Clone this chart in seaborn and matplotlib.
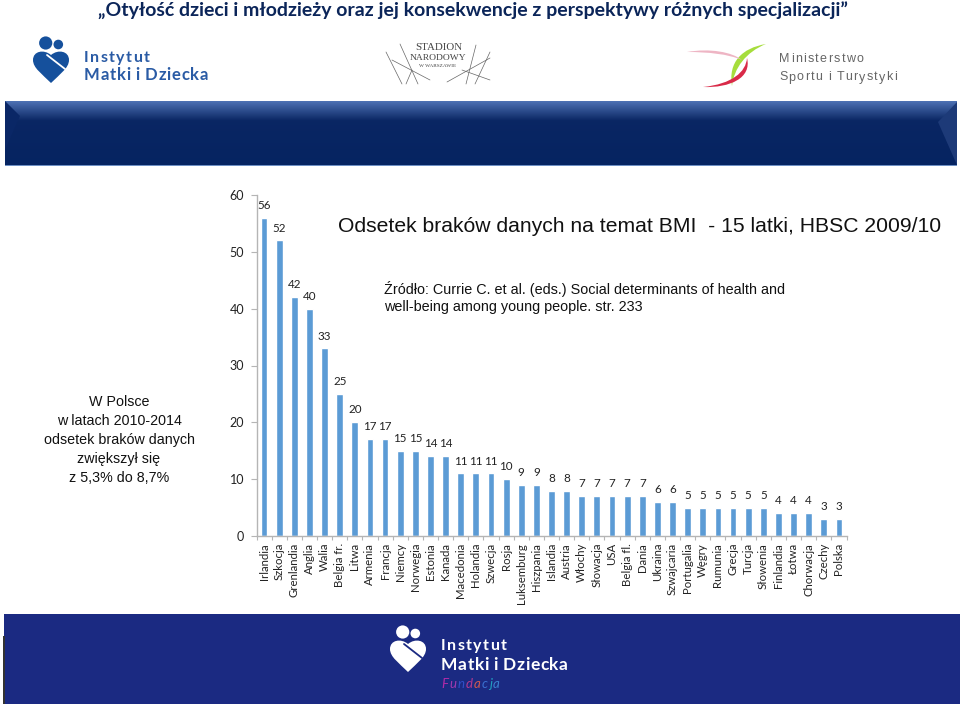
import numpy as np
import pandas as pd
import matplotlib.pyplot as plt
from matplotlib.patches import Circle, PathPatch, Polygon, Rectangle
from matplotlib.path import Path
import seaborn as sns

# dane
kraje = ["Irlandia", "Szkocja", "Grenlandia", "Anglia", "Walia", "Belgia fr.", "Litwa",
         "Armenia", "Francja", "Niemcy", "Norwegia", "Estonia", "Kanada", "Macedonia",
         "Holandia", "Szwecja", "Rosja", "Luksemburg", "Hiszpania", "Islandia", "Austria",
         "Włochy", "Słowacja", "USA", "Belgia fl.", "Dania", "Ukraina", "Szwajcaria",
         "Portugalia", "Węgry", "Rumunia", "Grecja", "Turcja", "Słowenia", "Finlandia",
         "Łotwa", "Chorwacja", "Czechy", "Polska"]
braki = [56, 52, 42, 40, 33, 25, 20, 17, 17, 15, 15, 14, 14, 11, 11, 11, 10, 9, 9, 8, 8,
         7, 7, 7, 7, 7, 6, 6, 5, 5, 5, 5, 5, 5, 4, 4, 4, 3, 3]
y_ticks = [0, 10, 20, 30, 40, 50, 60]

tytul = "„Otyłość dzieci i młodzieży oraz jej konsekwencje z perspektywy różnych specjalizacji”"
naglowek = "Odsetek braków danych na temat BMI  - 15 latki, HBSC 2009/10"
zrodlo = ["Źródło: Currie C. et al. (eds.) Social determinants of health and",
          "well-being among young people. str. 233"]
polska = ["W Polsce", "w latach 2010-2014", "odsetek braków danych", "zwiększył się", "z 5,3% do 8,7%"]

W, H = 960, 706
sns.set_theme(style="white")
plt.rcParams["font.family"] = ["Lato", "DejaVu Sans"]

df = pd.DataFrame({"kraj": kraje, "braki": braki})

fig = plt.figure(figsize=(W / 100, H / 100), dpi=100, facecolor="white")

# tlo w pikselach
bg = fig.add_axes([0, 0, 1, 1], zorder=0)


def logo(ax, dx, dy, kolor, tlo):
    ax.add_patch(Circle((45.7 + dx, 43 + dy), 6.6, fc=kolor, ec="none"))
    ax.add_patch(Circle((58.3 + dx, 44.5 + dy), 4.8, fc=kolor, ec="none"))
    verts = [(51, 83), (42, 74), (33, 68), (33, 60), (33, 51), (44, 49), (51, 55),
             (58, 49), (69, 51), (69, 60), (69, 68), (60, 74), (51, 83)]
    verts = [(a + dx, b + dy) for a, b in verts]
    codes = [Path.MOVETO] + [Path.CURVE4] * 12
    ax.add_patch(PathPatch(Path(verts, codes), fc=kolor, ec="none"))
    ax.plot([47 + dx, 65 + dx], [55 + dy, 69 + dy], color=tlo, lw=1.3)


def spaced(ax, x, y, napis, odstep, **kw):
    # tekst z rozstrzelonymi literami
    rend = fig.canvas.get_renderer()
    for lit in napis:
        tx = ax.text(x, y, lit, va="center", ha="left", **kw)
        if lit == " ":
            x += 3.5 + odstep
        else:
            x += tx.get_window_extent(rend).width + odstep


# pasek gorny z gradientem
top = np.array([0.30, 0.44, 0.70])
mid = np.array([0.04, 0.15, 0.39])
low = np.array([0.02, 0.14, 0.38])
t = np.linspace(0, 1, 65)
grad = np.array([top + (mid - top) * v / 0.3 if v < 0.3 else mid + (low - mid) * (v - 0.3) / 0.7 for v in t])
bg.imshow(grad[:, None, :], extent=[5, 957, 166, 101], aspect="auto", zorder=1)
bg.add_patch(Polygon([(5, 101), (20, 116), (5, 150)], fc="#0a2766", ec="none", zorder=2))
bg.add_patch(Polygon([(957, 102), (938, 122), (957, 165)], fc="#1d3a78", ec="none", zorder=2))
bg.add_patch(Rectangle((5, 165), 952, 1.2, fc="#6d8fc4", ec="none", zorder=3))

# pasek dolny
bg.add_patch(Rectangle((4, 614), 956, 90, fc="#1b2a82", ec="none", zorder=1))
bg.add_patch(Rectangle((3, 636), 1.5, 68, fc="#333333", ec="none", zorder=2))

logo(bg, 0, 0, "#15509c", "white")
logo(bg, 357, 589, "white", "#1b2a82")
spaced(bg, 84, 58, "Instytut", 1.4, fontsize=11.5, fontweight="bold", color="#2a5ba5")
spaced(bg, 84, 75, "Matki i Dziecka", 0.8, fontsize=12, fontweight="bold", color="#2a5ba5")
spaced(bg, 441, 646, "Instytut", 1.4, fontsize=11.5, fontweight="bold", color="white")
spaced(bg, 441, 665, "Matki i Dziecka", 0.6, fontsize=12.5, fontweight="bold", color="white")
x_f = 441
for lit, kol in zip("Fundacja", ["#b02aa8", "#a03ab0", "#3050c8", "#b03a90", "#d05a50", "#3a70d0", "#20a0c0", "#3a80d0"]):
    tx = bg.text(x_f, 684, lit, fontsize=9.5, color=kol, va="center", ha="left", style="italic")
    x_f += tx.get_window_extent(fig.canvas.get_renderer()).width + 1.2

# stadion
bg.text(439, 48, "STADION", fontsize=7.8, family="Liberation Serif", color="#444444", ha="center", va="center")
bg.text(438, 58, "NARODOWY", fontsize=6.8, family="Liberation Serif", color="#444444", ha="center", va="center")
bg.text(438, 66, "W WARSZAWIE", fontsize=3.8, family="Liberation Serif", color="#444444", ha="center", va="center")
for a, b in [((386, 52), (402, 84)), ((400, 44), (418, 84)), ((392, 60), (430, 80)), ((406, 84), (412, 70)),
             ((476, 45), (466, 84)), ((490, 52), (475, 84)), ((447, 82), (490, 58)), ((490, 80), (462, 70))]:
    bg.plot([a[0], b[0]], [a[1], b[1]], color="#666666", lw=0.5)

# ministerstwo
bg.add_patch(PathPatch(Path([(766, 44), (742, 48), (728, 62), (732, 86), (734, 68), (746, 52), (766, 44)],
                            [Path.MOVETO] + [Path.CURVE4] * 6), fc="#a6dd3c", ec="none"))
bg.add_patch(PathPatch(Path([(703, 87), (730, 88), (752, 78), (747, 58), (746, 72), (732, 84), (703, 87)],
                            [Path.MOVETO] + [Path.CURVE4] * 6), fc="#d92a48", ec="none"))
bg.add_patch(PathPatch(Path([(687, 52), (710, 48), (732, 52), (742, 60), (728, 54), (708, 52), (687, 52)],
                            [Path.MOVETO] + [Path.CURVE4] * 6), fc="#eeb5c4", ec="none"))
spaced(bg, 779, 59.5, "Ministerstwo", 1.3, fontsize=9, family="Liberation Sans", color="#666666")
spaced(bg, 779, 77.5, "Sportu i Turystyki", 1.2, fontsize=9, family="Liberation Sans", color="#666666")

# teksty
bg.text(473, 10, tytul, fontsize=14.0, fontweight="bold", color="#0b2559", ha="center", va="center")
bg.text(338, 226, naglowek, fontsize=15.2, family="Liberation Sans", color="#111111", ha="left", va="center")
for i, linia in enumerate(zrodlo):
    bg.text(384, 289 + i * 18.5, linia, fontsize=10.35, family="Liberation Sans", color="#111111", ha="left", va="center")
for i, linia in enumerate(polska):
    bg.text(119, 402 + i * 19, linia, fontsize=10.3, family="Liberation Sans", color="#111111", ha="center", va="center")

bg.set_xlim(0, W)
bg.set_ylim(H, 0)
bg.axis("off")

# wykres
ax = fig.add_axes([256.5 / W, (H - 536) / H, 590 / W, 341 / H], zorder=1)
ax.patch.set_alpha(0)
sns.barplot(data=df, x="kraj", y="braki", color="#5b9bd5", saturation=1, width=0.45, ax=ax)
ax.set_xlim(-0.5, len(kraje) - 0.5)
ax.set_ylim(0, 60)
ax.set_yticks(y_ticks)
ax.set_xlabel("")
ax.set_ylabel("")
sns.despine(ax=ax)
for s in ["left", "bottom"]:
    ax.spines[s].set_color("#b5b5b5")
    ax.spines[s].set_linewidth(1)
ax.set_xticks(np.arange(len(kraje)))
ax.set_xticklabels(kraje, rotation=90, fontsize=8.2, color="#222222", ha="center", va="top")
ax.set_xticks(np.arange(len(kraje) + 1) - 0.5, minor=True)
ax.tick_params(axis="x", which="major", length=0, pad=5)
ax.tick_params(axis="x", which="minor", length=3, width=0.8, color="#b5b5b5", bottom=True)
ax.tick_params(axis="y", length=4, width=0.8, color="#b5b5b5", left=True, labelsize=9, labelcolor="#222222", pad=5)
for c in ax.containers:
    ax.bar_label(c, padding=5, fontsize=8.4, color="#222222")

fig.savefig("out.png", dpi=100)
plt.close(fig)
